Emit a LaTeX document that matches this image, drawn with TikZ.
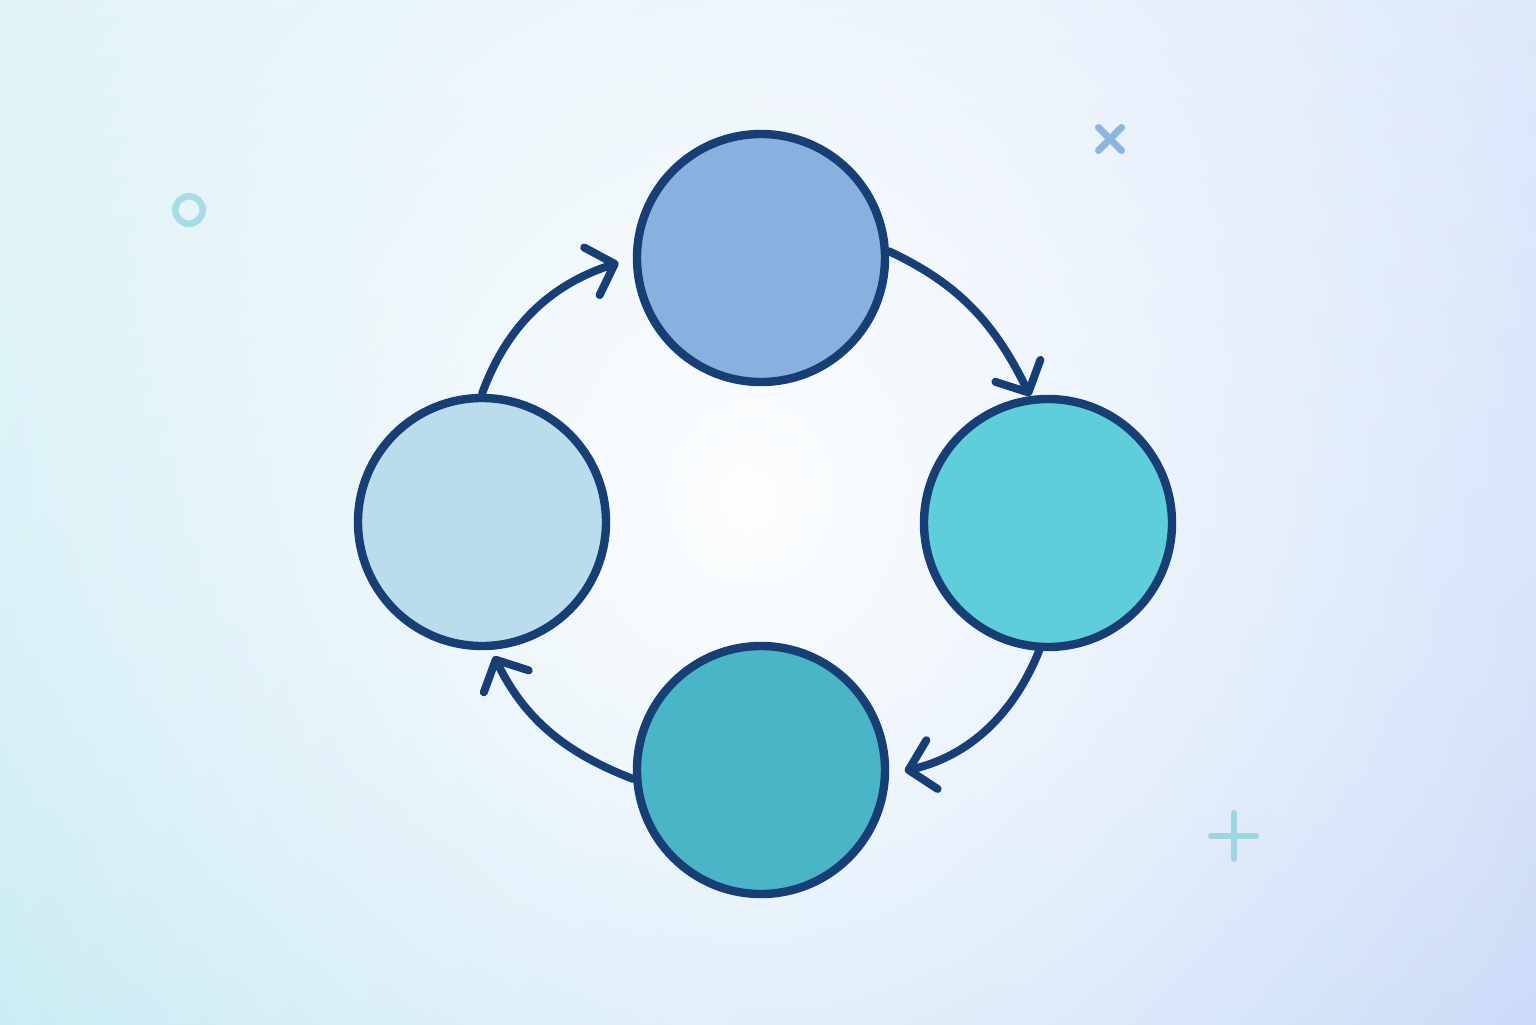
\documentclass[tikz,border=0pt]{standalone}
\usetikzlibrary{arrows.meta,fadings,shadings}
\definecolor{navy}{HTML}{173F76}
\definecolor{cTop}{HTML}{8AB0E0}
\definecolor{cRight}{HTML}{5ECEDB}
\definecolor{cBot}{HTML}{4AB5C6}
\definecolor{cLeft}{HTML}{BADCEC}
\definecolor{bgTL}{HTML}{DCF2F6}
\definecolor{bgTR}{HTML}{DAE5F9}
\definecolor{bgBL}{HTML}{C2EAF1}
\definecolor{bgBR}{HTML}{C6D6F7}
\definecolor{decoCirc}{HTML}{A6DCE6}
\definecolor{decoX}{HTML}{8DB5DF}
\definecolor{decoPlus}{HTML}{9DD6DE}
\tikzfading[name=centerglow, inner color=transparent!0, outer color=transparent!100]
\begin{document}
\begin{tikzpicture}[x=0.5pt,y=0.5pt,
  stage/.style={circle, draw=navy, line width=4.2pt, minimum size=124pt, inner sep=0pt},
  flow/.style={draw=navy, line width=4pt, line cap=round,
    -{Straight Barb[length=12pt,width=25pt,round]}},
  deco/.style={line cap=round}]
\useasboundingbox (0,0) rectangle (1536,-1024);
\shade[upper left=bgTL, upper right=bgTR, lower left=bgBL, lower right=bgBR]
  (0,0) rectangle (1536,-1024);
\begin{scope}
\clip (0,0) rectangle (1536,-1024);
\fill[white, path fading=centerglow, fill opacity=0.95] (-290,620) rectangle (1790,-1620);
\end{scope}

\node[stage, fill=cTop]   (T) at (761,-258) {};
\node[stage, fill=cRight] (R) at (1048,-523) {};
\node[stage, fill=cBot]   (B) at (761,-770) {};
\node[stage, fill=cLeft]  (L) at (482,-522) {};

\draw[flow] (T.3) to[out=-25,in=116] (R.98);
\draw[flow, shorten >=8pt] (R.-94) to[out=-112,in=13] (B.-2);
\draw[flow, shorten >=3.5pt] (B.184) to[out=159,in=-64] (L.-86);
\draw[flow, shorten >=7.5pt] (L.90) to[out=70,in=-162] (T.180);

\node[circle, draw=decoCirc, line width=3.3pt, minimum size=13.7pt, inner sep=0pt] (ring) at (189,-210) {};
\coordinate (xc) at (1110,-139);
\draw[deco, draw=decoX, line width=3.5pt]
  ([shift={(-11.5,11.5)}]xc) -- ([shift={(11.5,-11.5)}]xc)
  ([shift={(-11.5,-11.5)}]xc) -- ([shift={(11.5,11.5)}]xc);
\coordinate (pc) at (1233.5,-836);
\draw[deco, draw=decoPlus, line width=3pt]
  ([shift={(0,23)}]pc) -- ([shift={(0,-23)}]pc)
  ([shift={(-22.5,0)}]pc) -- ([shift={(22.5,0)}]pc);
\end{tikzpicture}
\end{document}
